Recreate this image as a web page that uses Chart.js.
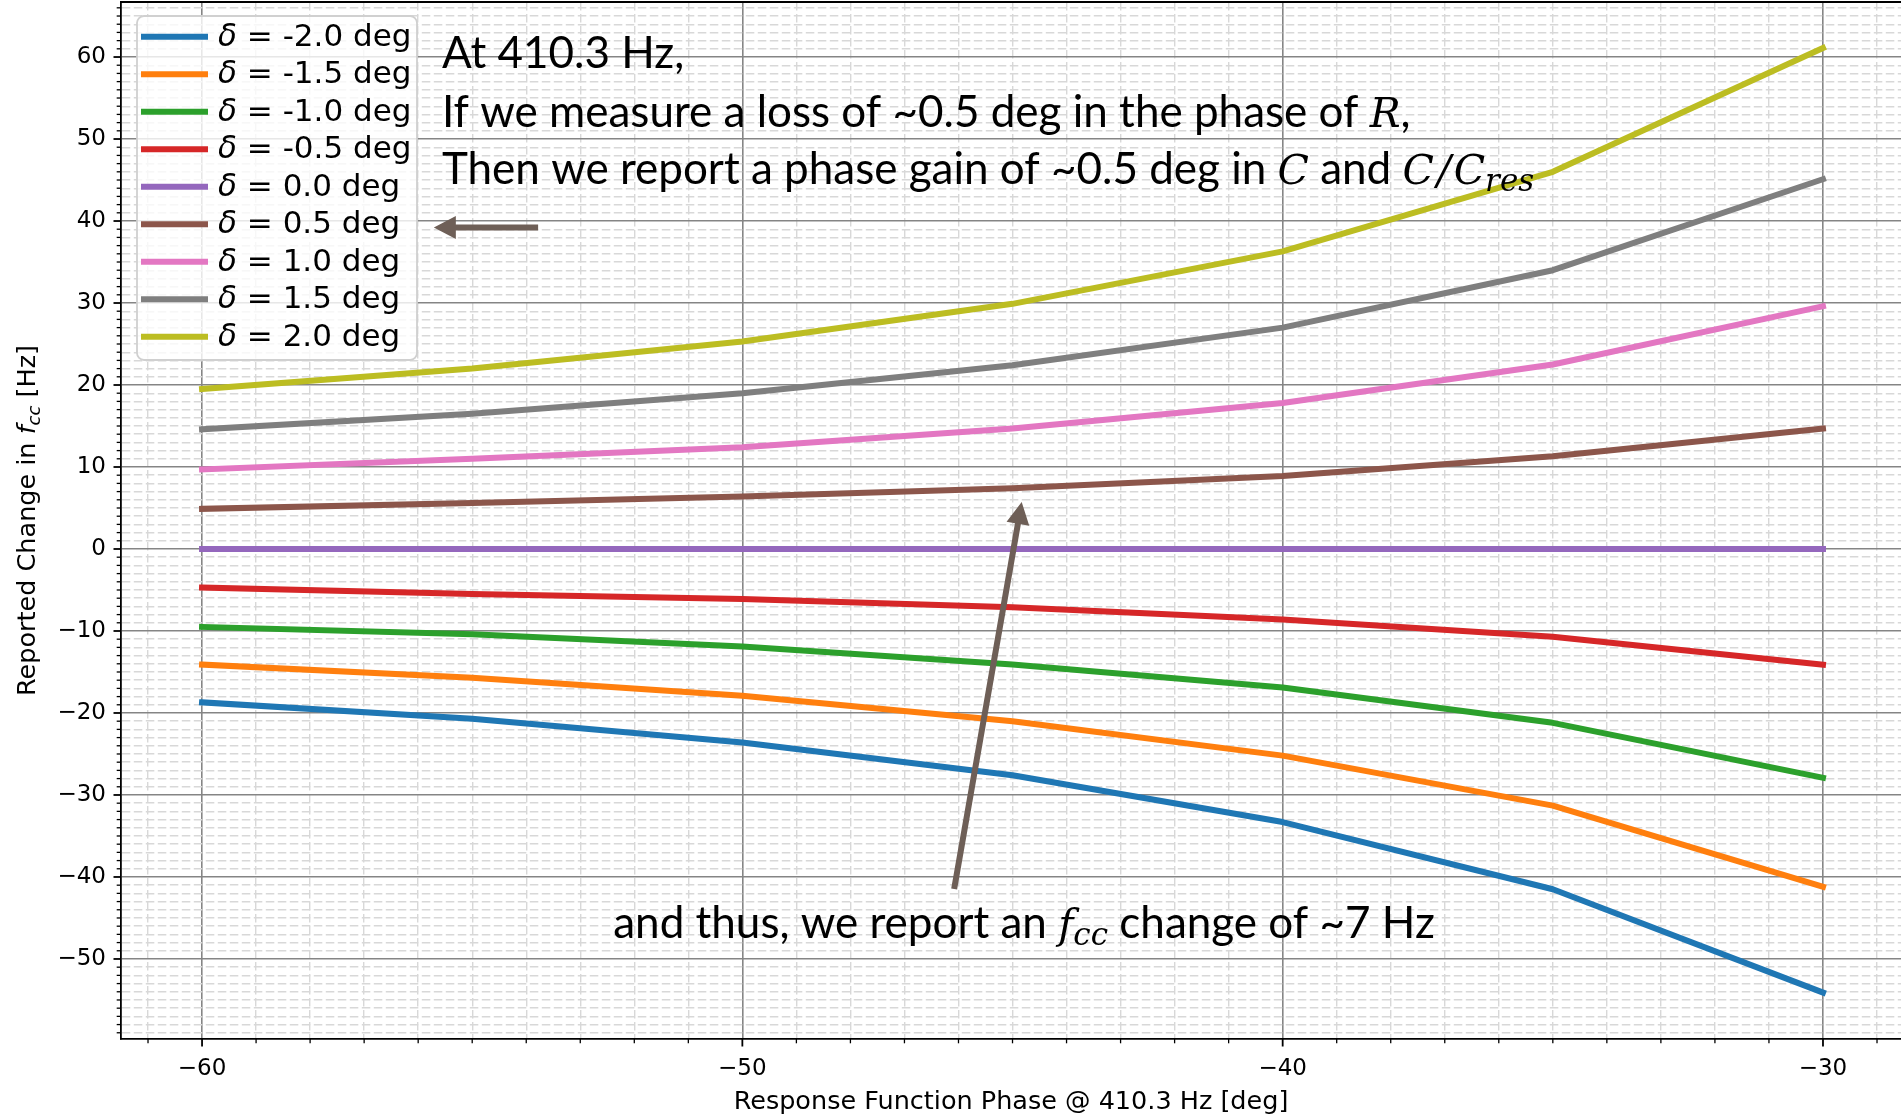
<!DOCTYPE html>
<html>
<head>
<meta charset="utf-8">
<script src="https://cdn.jsdelivr.net/npm/chart.js@4.4.1/dist/chart.umd.min.js"></script>
<style>
  html, body { margin: 0; padding: 0; background: #ffffff; overflow: hidden; }
  #wrap { position: relative; width: 1901px; height: 1117px; }
</style>
</head>
<body>
<div id="wrap"><canvas id="chart" width="1901" height="1117"></canvas></div>
<script>
// Response-function phase at 410.3 Hz [deg]
const phaseDeg = [-60, -55, -50, -45, -40, -35, -30];

// Reported change in f_cc [Hz] for each phase offset delta
const fccDeltaMinus20 = [-18.7, -20.7, -23.6, -27.6, -33.3, -41.5, -54.1];
const fccDeltaMinus15 = [-14.1, -15.7, -17.9, -21.0, -25.2, -31.3, -41.2];
const fccDeltaMinus10 = [-9.5, -10.4, -11.9, -14.1, -16.9, -21.2, -27.9];
const fccDeltaMinus05 = [-4.7, -5.5, -6.1, -7.1, -8.6, -10.7, -14.1];
const fccDelta00 = [0, 0, 0, 0, 0, 0, 0];
const fccDelta05 = [4.9, 5.6, 6.4, 7.4, 8.9, 11.3, 14.7];
const fccDelta10 = [9.7, 11.0, 12.4, 14.7, 17.8, 22.5, 29.6];
const fccDelta15 = [14.6, 16.5, 19.0, 22.4, 27.0, 34.0, 45.1];
const fccDelta20 = [19.5, 22.0, 25.3, 29.9, 36.3, 46.0, 61.1];

const seriesLabels = ['δ = -2.0 deg', 'δ = -1.5 deg', 'δ = -1.0 deg', 'δ = -0.5 deg',
  'δ = 0.0 deg', 'δ = 0.5 deg', 'δ = 1.0 deg', 'δ = 1.5 deg', 'δ = 2.0 deg'];
const seriesValues = [fccDeltaMinus20, fccDeltaMinus15, fccDeltaMinus10, fccDeltaMinus05,
  fccDelta00, fccDelta05, fccDelta10, fccDelta15, fccDelta20];
const seriesColors = ['#1f77b4', '#ff7f0e', '#2ca02c', '#d62728', '#9467bd',
  '#8c564b', '#e377c2', '#7f7f7f', '#bcbd22'];

// Labelled (major) tick values
const xMajorTicks = [-60, -50, -40, -30];
const yMajorTicks = [-50, -40, -30, -20, -10, 0, 10, 20, 30, 40, 50, 60];

const TICK_FONT = { family: 'DejaVu Sans', size: 23 };
const LABEL_PX = 25.5;
const LEGEND_PX = 31;
const NOTE_FONT = '44px Lato';
const NOTE_MATH = 'italic 41px "DejaVu Serif"';
const NOTE_SUB = 'italic 31px "DejaVu Serif"';
const ARROW_COLOR = '#6e5f57';

const isMajorX = v => xMajorTicks.some(t => Math.abs(t - v) < 1e-6);
const isMajorY = v => yMajorTicks.some(t => Math.abs(t - v) < 1e-6);
const fmtTick = v => (v < 0 ? '\u2212' : '') + Math.abs(Math.round(v));

// Mixed-style text runs: {t, font, dy, gap}
function runsWidth(ctx, runs) {
  let w = 0;
  for (const r of runs) { ctx.font = r.font; w += ctx.measureText(r.t).width + 2 * (r.gap || 0); }
  return w;
}
function drawRuns(ctx, x, y, runs) {
  for (const r of runs) {
    ctx.font = r.font;
    x += r.gap || 0;
    ctx.fillText(r.t, x, y + (r.dy || 0));
    x += ctx.measureText(r.t).width + (r.gap || 0);
  }
}

function drawArrow(ctx, x0, y0, x1, y1) {
  const shaft = 6, headW = 23, headL = 22;
  const dx = x1 - x0, dy = y1 - y0, len = Math.hypot(dx, dy);
  const ux = dx / len, uy = dy / len, nx = -uy, ny = ux;
  const bx = x1 - ux * headL, by = y1 - uy * headL;
  ctx.save();
  ctx.fillStyle = ARROW_COLOR;
  ctx.beginPath();
  ctx.moveTo(x0 + nx * shaft / 2, y0 + ny * shaft / 2);
  ctx.lineTo(bx + nx * shaft / 2, by + ny * shaft / 2);
  ctx.lineTo(bx + nx * headW / 2, by + ny * headW / 2);
  ctx.lineTo(x1, y1);
  ctx.lineTo(bx - nx * headW / 2, by - ny * headW / 2);
  ctx.lineTo(bx - nx * shaft / 2, by - ny * shaft / 2);
  ctx.lineTo(x0 - nx * shaft / 2, y0 - ny * shaft / 2);
  ctx.closePath();
  ctx.fill();
  ctx.restore();
}

// Keep the plot frame fixed: no extra padding for the (blank) end tick labels
function fixedBox(size, key) {
  return s => {
    s[key] = size;
    s.paddingTop = 0; s.paddingBottom = 0; s.paddingLeft = 0; s.paddingRight = 0;
  };
}

const decorations = {
  id: 'decorations',
  afterDatasetsDraw(chart) {
    const { ctx, chartArea: a, scales: { x, y } } = chart;
    const px = v => x.getPixelForValue(v), py = v => y.getPixelForValue(v);

    // Annotation arrows
    drawArrow(ctx, px(-53.78), py(39.2), px(-55.71), py(39.2));
    drawArrow(ctx, px(-46.08), py(-41.46), px(-44.83), py(5.73));

    // Annotation text
    ctx.save();
    ctx.fillStyle = '#000';
    ctx.textBaseline = 'alphabetic';
    ctx.textAlign = 'left';
    const tx = px(-55.56);
    drawRuns(ctx, tx, py(58.6), [{ t: 'At 410.3 Hz,', font: NOTE_FONT }]);
    drawRuns(ctx, tx, py(51.5), [
      { t: 'If we measure a loss of ~0.5 deg in the phase of ', font: NOTE_FONT },
      { t: 'R', font: NOTE_MATH },
      { t: ',', font: NOTE_FONT }
    ]);
    drawRuns(ctx, tx, py(44.5), [
      { t: 'Then we report a phase gain of ~0.5 deg in ', font: NOTE_FONT },
      { t: 'C', font: NOTE_MATH },
      { t: ' and ', font: NOTE_FONT },
      { t: 'C', font: NOTE_MATH },
      { t: '/', font: NOTE_MATH, gap: 3 },
      { t: 'C', font: NOTE_MATH },
      { t: 'res', font: NOTE_SUB, dy: 7 }
    ]);
    drawRuns(ctx, px(-52.39), py(-47.5), [
      { t: 'and thus, we report an ', font: NOTE_FONT },
      { t: 'f', font: NOTE_MATH },
      { t: 'cc', font: NOTE_SUB, dy: 7 },
      { t: ' change of ~7 Hz', font: NOTE_FONT }
    ]);
    ctx.restore();

    // Legend box
    ctx.save();
    const lx = a.left + 16, ly = a.top + 14, lw = 280, lh = 344;
    ctx.beginPath();
    ctx.roundRect(lx, ly, lw, lh, 7);
    ctx.fillStyle = 'rgba(255,255,255,0.8)';
    ctx.fill();
    ctx.lineWidth = 1.8;
    ctx.strokeStyle = '#d0d0d0';
    ctx.stroke();
    chart.data.datasets.forEach((ds, i) => {
      const cy = a.top + 34.7 + i * 37.5;
      ctx.strokeStyle = ds.borderColor;
      ctx.lineWidth = 6;
      ctx.lineCap = 'butt';
      ctx.beginPath();
      ctx.moveTo(a.left + 20, cy);
      ctx.lineTo(a.left + 87, cy);
      ctx.stroke();
      ctx.fillStyle = '#000';
      ctx.textBaseline = 'middle';
      drawRuns(ctx, a.left + 97, cy + 1, [
        { t: ds.label.slice(0, 1), font: 'italic ' + LEGEND_PX + 'px "DejaVu Sans"' },
        { t: ds.label.slice(1), font: LEGEND_PX + 'px "DejaVu Sans"' }
      ]);
    });
    ctx.restore();
  },
  afterDraw(chart) {
    const { ctx, chartArea: a, scales: { x, y } } = chart;
    ctx.save();
    // Top frame line
    ctx.strokeStyle = '#000';
    ctx.lineWidth = 1.8;
    ctx.beginPath();
    ctx.moveTo(a.left, a.top);
    ctx.lineTo(a.right, a.top);
    ctx.stroke();

    // Outward tick marks, long for labelled ticks and short for minor ones
    for (const t of y.ticks) {
      const major = isMajorY(t.value);
      const p = y.getPixelForValue(t.value);
      ctx.lineWidth = major ? 1.8 : 1.3;
      ctx.beginPath();
      ctx.moveTo(a.left, p);
      ctx.lineTo(a.left - (major ? 7.5 : 4.3), p);
      ctx.stroke();
    }
    for (const t of x.ticks) {
      const major = isMajorX(t.value);
      const p = x.getPixelForValue(t.value);
      ctx.lineWidth = major ? 1.8 : 1.3;
      ctx.beginPath();
      ctx.moveTo(p, a.bottom);
      ctx.lineTo(p, a.bottom + (major ? 7.5 : 4.3));
      ctx.stroke();
    }

    // Axis titles
    ctx.fillStyle = '#000';
    ctx.textBaseline = 'alphabetic';
    const regular = LABEL_PX + 'px "DejaVu Sans"';
    const oblique = 'italic ' + LABEL_PX + 'px "DejaVu Sans"';
    const obliqueSub = 'italic ' + Math.round(LABEL_PX * 0.7) + 'px "DejaVu Sans"';
    const xRuns = [{ t: 'Response Function Phase @ 410.3 Hz [deg]', font: regular }];
    const xw = runsWidth(ctx, xRuns);
    drawRuns(ctx, (a.left + a.right) / 2 - xw / 2, a.bottom + 69.5, xRuns);

    const yRuns = [
      { t: 'Reported Change in ', font: regular },
      { t: 'f', font: oblique },
      { t: 'cc', font: obliqueSub, dy: 5 },
      { t: ' [Hz]', font: regular }
    ];
    const yw = runsWidth(ctx, yRuns);
    ctx.translate(a.left - 86.5, (a.top + a.bottom) / 2);
    ctx.rotate(-Math.PI / 2);
    drawRuns(ctx, -yw / 2, 0, yRuns);
    ctx.restore();
  }
};

const minorDash = [8.5, 3.5];
const gridColor = major => major ? '#858585' : '#d8d8d8';

new Chart(document.getElementById('chart'), {
  type: 'line',
  data: {
    datasets: seriesValues.map((vals, i) => ({
      label: seriesLabels[i],
      data: phaseDeg.map((p, j) => ({ x: p, y: vals[j] })),
      borderColor: seriesColors[i],
      backgroundColor: seriesColors[i],
      borderWidth: 6,
      borderCapStyle: 'square',
      borderJoinStyle: 'round',
      pointRadius: 0,
      pointHoverRadius: 0,
      tension: 0,
      fill: false
    }))
  },
  options: {
    responsive: false,
    devicePixelRatio: 1,
    animation: false,
    events: [],
    layout: { padding: { top: 2, right: 0, bottom: 0, left: 0 } },
    plugins: { legend: { display: false }, tooltip: { enabled: false }, title: { display: false } },
    scales: {
      x: {
        type: 'linear',
        min: -61.5,
        max: -28.556,
        afterFit: fixedBox(78, 'height'),
        ticks: {
          stepSize: 1, autoSkip: false, includeBounds: false, maxRotation: 0, padding: 16.5,
          color: '#000', font: TICK_FONT,
          callback: v => isMajorX(v) ? fmtTick(v) : ''
        },
        grid: {
          drawTicks: false,
          color: c => gridColor(c.tick && isMajorX(c.tick.value)),
          lineWidth: c => (c.tick && isMajorX(c.tick.value)) ? 1.6 : 1.4
        },
        border: {
          display: true, color: '#000', width: 1.8,
          dash: c => (c.tick && !isMajorX(c.tick.value)) ? minorDash : []
        }
      },
      y: {
        type: 'linear',
        min: -59.76,
        max: 66.71,
        afterFit: fixedBox(121, 'width'),
        ticks: {
          stepSize: 1, autoSkip: false, includeBounds: false, padding: 15,
          color: '#000', font: TICK_FONT,
          callback: v => isMajorY(v) ? fmtTick(v) : ''
        },
        grid: {
          drawTicks: false,
          color: c => gridColor(c.tick && isMajorY(c.tick.value)),
          lineWidth: c => (c.tick && isMajorY(c.tick.value)) ? 1.6 : 1.4
        },
        border: {
          display: true, color: '#000', width: 1.8,
          dash: c => (c.tick && !isMajorY(c.tick.value)) ? minorDash : []
        }
      }
    }
  },
  plugins: [decorations]
});
</script>
</body>
</html>
